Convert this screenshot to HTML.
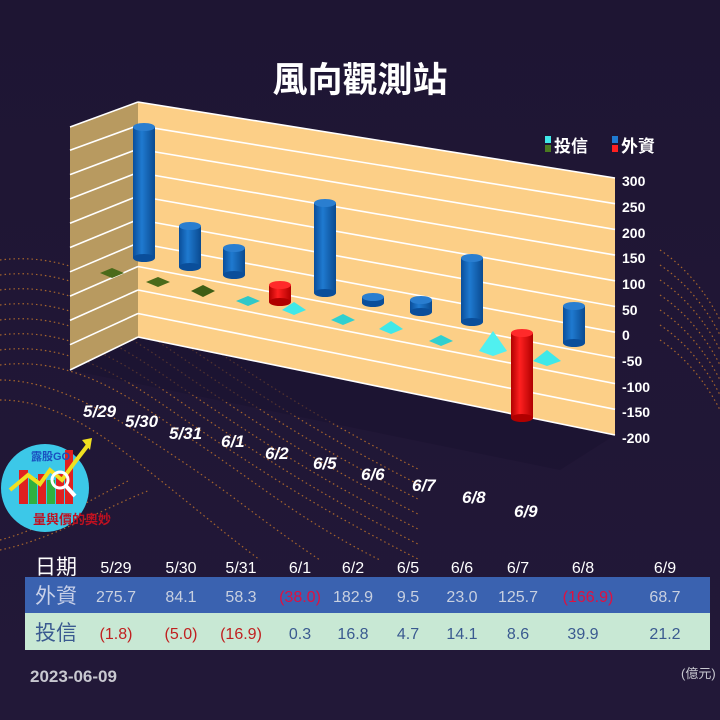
<!DOCTYPE html>
<html><head><meta charset="utf-8"><style>
body{margin:0;background:#1f1636;}
svg{display:block}
text{font-family:"Liberation Sans","Noto Sans CJK TC",sans-serif;}
</style></head><body>
<svg width="720" height="720" viewBox="0 0 720 720" xmlns="http://www.w3.org/2000/svg">
<defs>
<linearGradient id="bg" x1="0" y1="0" x2="0" y2="1"><stop offset="0" stop-color="#1e1533"/><stop offset="1" stop-color="#221838"/></linearGradient>
<linearGradient id="cb" x1="0" x2="1"><stop offset="0" stop-color="#0a4e9a"/><stop offset=".4" stop-color="#1f7ad0"/><stop offset="1" stop-color="#0a4a90"/></linearGradient>
<linearGradient id="cr" x1="0" x2="1"><stop offset="0" stop-color="#b00000"/><stop offset=".4" stop-color="#ff2020"/><stop offset="1" stop-color="#b00000"/></linearGradient>
</defs>
<rect width="720" height="720" fill="url(#bg)"/>
<g fill="none" stroke="#c8782a" stroke-width="1.2" stroke-dasharray="1.5 3" opacity=".8">
<path d="M0 260 C80 250 140 300 200 340 S 320 420 420 470"/>
<path d="M0 275 C80 265 140 315 200 355 S 320 435 420 485"/>
<path d="M0 290 C80 280 140 330 200 370 S 320 450 420 500"/>
<path d="M0 305 C80 295 140 345 200 385 S 320 465 420 515"/>
<path d="M0 320 C80 310 140 360 200 400 S 320 480 420 530"/>
<path d="M0 335 C80 325 140 375 200 415 S 320 495 420 545"/>
<path d="M0 350 C80 340 140 390 200 430 S 320 510 420 560"/>
<path d="M0 365 C80 355 140 405 200 445 S 300 520 380 560"/>
<path d="M0 380 C60 380 120 420 180 460 S 260 520 320 560"/>
<path d="M0 400 C60 400 110 440 160 480 S 220 530 260 560"/>
<path d="M0 540 C40 530 90 500 130 480"/>
<path d="M0 550 C50 540 100 510 150 490"/>
<path d="M660 250 C690 270 710 300 720 320"/>
<path d="M660 265 C690 285 710 315 720 335"/>
<path d="M660 280 C690 300 710 330 720 350"/>
<path d="M660 295 C690 315 710 345 720 365"/>
<path d="M660 310 C690 330 710 360 720 380"/>
<path d="M660 325 C690 345 710 375 720 395"/>
<path d="M660 340 C690 360 710 390 720 410"/>
</g>
<polygon points="70,370 138,337 615,435 560,470" fill="#1a1230" opacity=".6"/>
<polygon points="70,127 138,102 138,337 70,370" fill="#b89a60"/>
<polygon points="138,102 615,178 615,435 138,337" fill="#fccf87"/>
<g stroke="#ffffff" stroke-width="1.6">
<line x1="70" y1="127" x2="138" y2="102"/>
<line x1="138" y1="102" x2="615" y2="178"/>
<line x1="70" y1="150.3" x2="138" y2="125.5"/><line x1="138" y1="125.5" x2="615" y2="203.7"/>
<line x1="70" y1="174.6" x2="138" y2="149"/><line x1="138" y1="149" x2="615" y2="229.4"/>
<line x1="70" y1="198.9" x2="138" y2="172.5"/><line x1="138" y1="172.5" x2="615" y2="255.1"/>
<line x1="70" y1="223.2" x2="138" y2="196"/><line x1="138" y1="196" x2="615" y2="280.8"/>
<line x1="70" y1="247.5" x2="138" y2="219.5"/><line x1="138" y1="219.5" x2="615" y2="306.5"/>
<line x1="70" y1="271.8" x2="138" y2="243"/><line x1="138" y1="243" x2="615" y2="332.2"/>
<line x1="70" y1="296.1" x2="138" y2="266.5"/><line x1="138" y1="266.5" x2="615" y2="357.9"/>
<line x1="70" y1="320.4" x2="138" y2="290"/><line x1="138" y1="290" x2="615" y2="383.6"/>
<line x1="70" y1="344.7" x2="138" y2="313.5"/><line x1="138" y1="313.5" x2="615" y2="409.3"/>
<line x1="70" y1="370" x2="138" y2="337"/><line x1="138" y1="337" x2="615" y2="435"/>
</g>
<g>
<polygon points="100,273 112,268 124,273 112,278" fill="#4a6a1a"/>
<polygon points="146,282 158,277 170,282 158,287" fill="#4a6a1a"/>
<polygon points="191,291 203,285 215,291 203,297" fill="#3e5e15"/>
<polygon points="236,301 248,296 260,301 248,306" fill="#30c8c8"/>
<polygon points="282,310 294,302 306,310 294,315" fill="#40e8e8"/>
<polygon points="331,320 343,314 355,320 343,325" fill="#30d0d0"/>
<polygon points="379,329 391,321 403,329 391,334" fill="#40e8e8"/>
<polygon points="429,341 441,335 453,341 441,346" fill="#30d0d0"/>
<polygon points="479,351 493,331 507,351 493,356" fill="#50f0f0"/>
<polygon points="533,361 547,350 561,361 547,366" fill="#40e8e8"/>
</g>
<g>
<rect x="133" y="127" width="22" height="131" fill="url(#cb)"/><ellipse cx="144" cy="258" rx="11" ry="4" fill="#0a4e9a"/><ellipse cx="144" cy="127" rx="11" ry="4" fill="#2a7ed0"/>
<rect x="179" y="226" width="22" height="41" fill="url(#cb)"/><ellipse cx="190" cy="267" rx="11" ry="4" fill="#0a4e9a"/><ellipse cx="190" cy="226" rx="11" ry="4" fill="#2a7ed0"/>
<rect x="223" y="248" width="22" height="27" fill="url(#cb)"/><ellipse cx="234" cy="275" rx="11" ry="4" fill="#0a4e9a"/><ellipse cx="234" cy="248" rx="11" ry="4" fill="#2a7ed0"/>
<rect x="269" y="285" width="22" height="17" fill="url(#cr)"/><ellipse cx="280" cy="302" rx="11" ry="4" fill="#b00000"/><ellipse cx="280" cy="285" rx="11" ry="4" fill="#ff2a2a"/>
<rect x="314" y="203" width="22" height="90" fill="url(#cb)"/><ellipse cx="325" cy="293" rx="11" ry="4" fill="#0a4e9a"/><ellipse cx="325" cy="203" rx="11" ry="4" fill="#2a7ed0"/>
<rect x="362" y="297" width="22" height="6" fill="url(#cb)"/><ellipse cx="373" cy="303" rx="11" ry="4" fill="#0a4e9a"/><ellipse cx="373" cy="297" rx="11" ry="4" fill="#2a7ed0"/>
<rect x="410" y="300" width="22" height="12" fill="url(#cb)"/><ellipse cx="421" cy="312" rx="11" ry="4" fill="#0a4e9a"/><ellipse cx="421" cy="300" rx="11" ry="4" fill="#2a7ed0"/>
<rect x="461" y="258" width="22" height="64" fill="url(#cb)"/><ellipse cx="472" cy="322" rx="11" ry="4" fill="#0a4e9a"/><ellipse cx="472" cy="258" rx="11" ry="4" fill="#2a7ed0"/>
<rect x="511" y="333" width="22" height="85" fill="url(#cr)"/><ellipse cx="522" cy="418" rx="11" ry="4" fill="#b00000"/><ellipse cx="522" cy="333" rx="11" ry="4" fill="#ff2a2a"/>
<rect x="563" y="306" width="22" height="37" fill="url(#cb)"/><ellipse cx="574" cy="343" rx="11" ry="4" fill="#0a4e9a"/><ellipse cx="574" cy="306" rx="11" ry="4" fill="#2a7ed0"/>
</g>
<g fill="#fff" font-size="14" font-weight="bold">
<text x="622" y="186">300</text><text x="622" y="212">250</text><text x="622" y="238">200</text>
<text x="622" y="263">150</text><text x="622" y="289">100</text><text x="622" y="315">50</text>
<text x="622" y="340">0</text><text x="622" y="366">-50</text><text x="622" y="392">-100</text>
<text x="622" y="417">-150</text><text x="622" y="443">-200</text>
</g>
<rect x="545" y="136" width="6" height="7" fill="#40e8e8"/><rect x="545" y="145" width="6" height="7" fill="#4a7a20"/>
<text x="554" y="152" fill="#fff" font-size="17" font-weight="bold">投信</text>
<rect x="612" y="136" width="6" height="7" fill="#1f7ad0"/><rect x="612" y="145" width="6" height="7" fill="#ff2020"/>
<text x="621" y="152" fill="#fff" font-size="17" font-weight="bold">外資</text>
<text x="360" y="92" fill="#fff" font-size="35" font-weight="bold" text-anchor="middle">風向觀測站</text>
<g fill="#fff" font-size="17" font-weight="bold" font-style="italic">
<text x="83" y="417">5/29</text><text x="125" y="427">5/30</text><text x="169" y="439">5/31</text>
<text x="221" y="447">6/1</text><text x="265" y="459">6/2</text><text x="313" y="469">6/5</text>
<text x="361" y="480">6/6</text><text x="412" y="491">6/7</text><text x="462" y="503">6/8</text>
<text x="514" y="517">6/9</text>
</g>
<circle cx="45" cy="488" r="44" fill="#3cc8e8"/>
<rect x="19" y="470" width="9" height="34" fill="#e02020"/>
<rect x="29" y="478" width="8" height="26" fill="#30b040"/>
<rect x="38" y="474" width="8" height="30" fill="#e02020"/>
<rect x="47" y="480" width="8" height="24" fill="#30b040"/>
<rect x="56" y="474" width="8" height="30" fill="#e02020"/>
<rect x="65" y="450" width="8" height="54" fill="#e02020"/>
<polyline points="10,490 28,475 40,484 50,470 62,480 75,462 88,445" fill="none" stroke="#f0e020" stroke-width="4"/>
<polygon points="82,440 92,438 90,450" fill="#f0e020"/>
<circle cx="60" cy="480" r="8" fill="none" stroke="#fff" stroke-width="3"/>
<line x1="66" y1="486" x2="75" y2="496" stroke="#fff" stroke-width="4"/>
<text x="31" y="460" fill="#1a50c0" font-size="11" font-weight="bold">露股GO</text>
<text x="33" y="524" fill="#c01020" font-size="13" font-weight="bold">量與價的奧妙</text>
<rect x="25" y="577" width="685" height="36" fill="#3a62b0"/>
<rect x="25" y="613" width="685" height="37" fill="#c8e8d4"/>
<g font-size="16" text-anchor="middle">
<text x="35" y="574" fill="#fff" font-size="21" text-anchor="start">日期</text>
<text x="116" y="573" fill="#fff">5/29</text><text x="181" y="573" fill="#fff">5/30</text><text x="241" y="573" fill="#fff">5/31</text>
<text x="300" y="573" fill="#fff">6/1</text><text x="353" y="573" fill="#fff">6/2</text><text x="408" y="573" fill="#fff">6/5</text>
<text x="462" y="573" fill="#fff">6/6</text><text x="518" y="573" fill="#fff">6/7</text><text x="583" y="573" fill="#fff">6/8</text>
<text x="665" y="573" fill="#fff">6/9</text>
<text x="35" y="603" fill="#c8d0e8" font-size="21" text-anchor="start">外資</text>
<g fill="#c8d0e0">
<text x="116" y="602">275.7</text><text x="181" y="602">84.1</text><text x="241" y="602">58.3</text>
<text x="353" y="602">182.9</text><text x="408" y="602">9.5</text><text x="462" y="602">23.0</text>
<text x="518" y="602">125.7</text><text x="665" y="602">68.7</text>
</g>
<text x="300" y="602" fill="#e01040">(38.0)</text><text x="588" y="602" fill="#e01040">(166.9)</text>
<text x="35" y="640" fill="#3a5a90" font-size="21" text-anchor="start">投信</text>
<g fill="#c02020">
<text x="116" y="639">(1.8)</text><text x="181" y="639">(5.0)</text><text x="241" y="639">(16.9)</text>
</g>
<g fill="#3a5a90">
<text x="300" y="639">0.3</text><text x="353" y="639">16.8</text><text x="408" y="639">4.7</text>
<text x="462" y="639">14.1</text><text x="518" y="639">8.6</text><text x="583" y="639">39.9</text><text x="665" y="639">21.2</text>
</g>
</g>
<text x="30" y="682" fill="#c8c8d0" font-size="17" font-weight="bold">2023-06-09</text>
<text x="681" y="678" fill="#c8c8d0" font-size="13">(億元)</text>
</svg>
</body></html>
